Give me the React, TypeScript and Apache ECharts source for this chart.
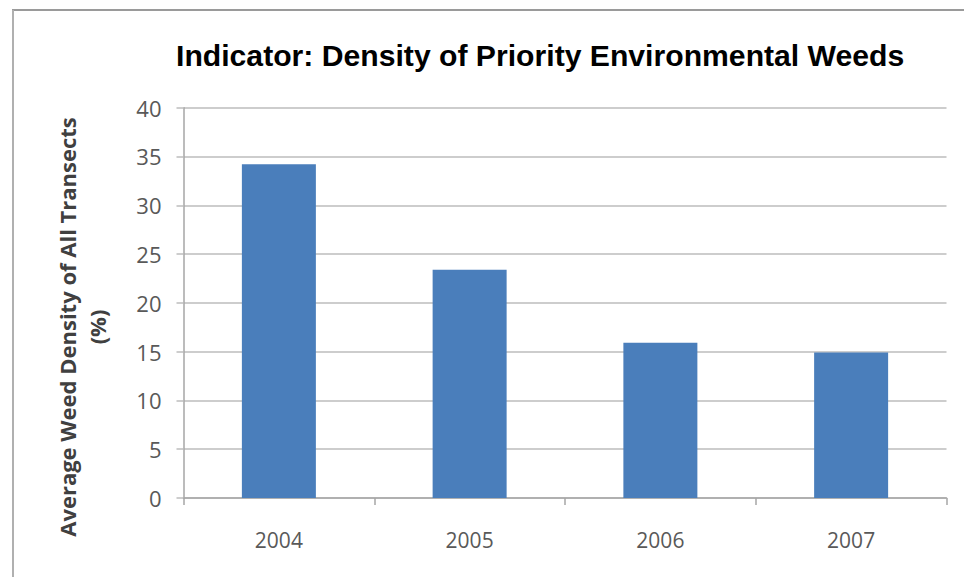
import React, { useEffect, useRef } from "react";
import * as echarts from "echarts";

// Survey years and average weed density (%) across all transects
const years = ["2004", "2005", "2006", "2007"];
const weedDensity = [34.2, 23.4, 15.9, 14.9];
const yTicks = { min: 0, max: 40, interval: 5 };

const titleText = "Indicator: Density of Priority Environmental Weeds";
const yNameLines = ["Average Weed Density of All Transects", "(%)"];

export default function App() {
  const ref = useRef<HTMLDivElement | null>(null);

  useEffect(() => {
    if (!ref.current) return;
    const chart = echarts.init(ref.current, null, { renderer: "svg" });
    const gridColor = "#bcbcbc";
    const labelColor = "#595959";
    chart.setOption({
      animation: false,
      backgroundColor: "#ffffff",
      grid: { left: 183.5, right: 17.5, top: 107.7, bottom: 79, containLabel: false },
      xAxis: {
        type: "category",
        data: years,
        boundaryGap: true,
        axisLine: { show: true, lineStyle: { color: "#a6a6a6", width: 1.5 } },
        axisTick: { show: true, length: 7, alignWithLabel: false, lineStyle: { color: "#a6a6a6", width: 1.5 } },
        axisLabel: {
          margin: 31,
          color: labelColor,
          fontFamily: "Open Sans",
          fontSize: 21,
        },
        splitLine: { show: false },
      },
      yAxis: {
        type: "value",
        min: yTicks.min,
        max: yTicks.max,
        interval: yTicks.interval,
        axisLine: { show: true, lineStyle: { color: "#a6a6a6", width: 1.5 } },
        axisTick: { show: true, length: 7, lineStyle: { color: gridColor, width: 1.5 } },
        axisLabel: {
          margin: 22,
          color: labelColor,
          fontFamily: "Open Sans",
          fontSize: 22,
        },
        splitLine: { show: true, lineStyle: { color: gridColor, width: 1.5 } },
      },
      series: [
        {
          type: "bar",
          data: weedDensity,
          barWidth: 74,
          itemStyle: { color: "#4a7ebb" },
        },
      ],
      graphic: [
        // frame lines along the top and left edges
        {
          type: "line",
          shape: { x1: 12, y1: 10, x2: 964, y2: 10 },
          style: { stroke: "#9a9a9a", lineWidth: 2 },
        },
        {
          type: "line",
          shape: { x1: 13, y1: 10, x2: 13, y2: 577 },
          style: { stroke: "#b0b0b0", lineWidth: 2 },
        },
        {
          type: "text",
          x: 176,
          y: 56,
          scaleX: 1.04,
          style: {
            text: titleText,
            fontFamily: "Liberation Sans",
            fontWeight: "bold",
            fontSize: 29,
            fill: "#000000",
            textAlign: "left",
            textVerticalAlign: "middle",
          },
        },
        {
          type: "text",
          x: 67,
          y: 327,
          rotation: Math.PI / 2,
          style: {
            text: yNameLines[0],
            fontFamily: "Open Sans",
            fontWeight: "bold",
            fontSize: 22,
            fill: "#404040",
            textAlign: "center",
            textVerticalAlign: "middle",
          },
        },
        {
          type: "text",
          x: 97,
          y: 327,
          rotation: Math.PI / 2,
          style: {
            text: yNameLines[1],
            fontFamily: "Open Sans",
            fontWeight: "bold",
            fontSize: 22,
            fill: "#404040",
            textAlign: "center",
            textVerticalAlign: "middle",
          },
        },
      ],
    });
    return () => chart.dispose();
  }, []);

  return (
    <div
      ref={ref}
      style={{ position: "absolute", left: 0, top: 0, width: 964, height: 577 }}
    />
  );
}
